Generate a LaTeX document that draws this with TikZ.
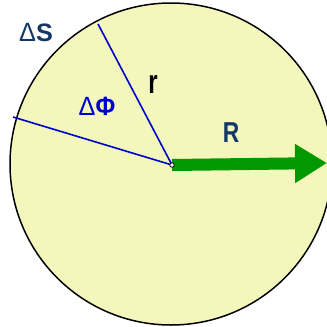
\documentclass[tikz,border=0pt]{standalone}
\usepackage{fontspec}
\setmainfont{Liberation Sans}
\usetikzlibrary{arrows.meta,positioning,calc}
\definecolor{PaleYellow}{RGB}{243,247,188}
\definecolor{LineBlue}{RGB}{0,0,204}
\definecolor{ArrowGreen}{RGB}{0,153,0}
\definecolor{DeepNavy}{RGB}{20,55,100}
\newcommand{\thindelta}{{\mdseries\scalebox{1.05}[1.1]{Δ}}}
\tikzset{
  disc/.style={draw=black,line width=1.5pt,fill=PaleYellow},
  radius line/.style={draw=LineBlue,line width=1.6pt},
  label/.style={font=\bfseries\fontsize{24}{24}\selectfont,inner sep=0pt},
  arrow/.style={-{Triangle[length=32pt,width=37pt]},line width=12pt,ArrowGreen}
}

\begin{document}
\begin{tikzpicture}[x=1pt,y=-1pt]
\useasboundingbox (0,0) rectangle (327,327);

% Circle
\begin{scope}
\clip (0,0) rectangle (327,327);
\draw[disc] (171,164) circle[radius=161];
\end{scope}

% Radii
\coordinate (O) at (172,165);
\coordinate (s1) at (98,24);
\coordinate (s2) at (13,117);
\draw[radius line] (s1) -- (O) -- (s2);

% Labels
\node[label,text=DeepNavy] (ds) at (36,33) {\thindelta\scalebox{1.05}{\textbf{S}}};
\node[label,text=black] (r) at (153,84) {\scalebox{1}[1.4]{\textbf{r}}};
\node[label,text=LineBlue] (dphi) at (97,106) {\thindelta\scalebox{1}[1.1]{\textbf{Φ}}};
\node[label,text=DeepNavy] (R) at (231,133) {\scalebox{0.95}[1.2]{\textbf{R}}};

% Arrow
\coordinate (tip) at (327,163);
\draw[arrow] (O) -- (tip);
\node[draw=black,fill=white,circle,inner sep=0pt,minimum size=4.5pt,line width=0.8pt] (dot) at (O) {};

\end{tikzpicture}
\end{document}
